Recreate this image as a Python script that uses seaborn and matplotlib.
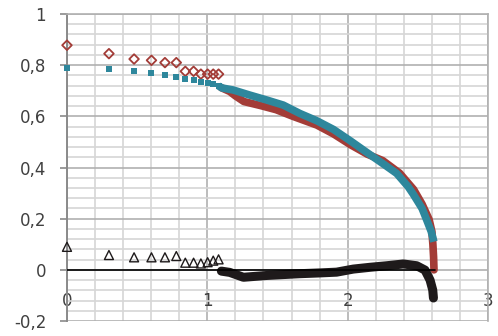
import matplotlib
matplotlib.use("Agg")
import matplotlib.pyplot as plt
import seaborn as sns
import pandas as pd
from matplotlib.ticker import FixedLocator, MultipleLocator

# ---------------- data ----------------
x_sparse = [0.0, 0.299, 0.478, 0.602, 0.698, 0.779, 0.843, 0.902, 0.954, 1.002, 1.042, 1.080]
red_sparse = [0.878, 0.845, 0.824, 0.819, 0.810, 0.810, 0.776, 0.776, 0.765, 0.765, 0.765, 0.765]
teal_sparse = [0.788, 0.784, 0.777, 0.769, 0.760, 0.753, 0.745, 0.741, 0.734, 0.729, 0.725, 0.719]
black_sparse = [0.090, 0.058, 0.049, 0.049, 0.049, 0.054, 0.028, 0.028, 0.025, 0.030, 0.036, 0.041]

red_dense_x = [1.10, 1.16, 1.20, 1.26, 1.38, 1.49, 1.61, 1.66, 1.78, 1.90, 2.02, 2.14,
               2.25, 2.37, 2.47, 2.53, 2.58, 2.60, 2.607, 2.612, 2.615]
red_dense_y = [0.712, 0.697, 0.680, 0.658, 0.642, 0.626, 0.600, 0.590, 0.566, 0.531, 0.489, 0.452,
               0.427, 0.378, 0.314, 0.257, 0.197, 0.150, 0.100, 0.050, 0.000]

teal_dense_x = [1.080, 1.104, 1.184, 1.303, 1.422, 1.541, 1.660, 1.779, 1.898, 2.017, 2.136,
                2.254, 2.349, 2.431, 2.468, 2.530, 2.563, 2.595, 2.614]
teal_dense_y = [0.719, 0.711, 0.703, 0.683, 0.664, 0.644, 0.611, 0.583, 0.549, 0.505, 0.459,
                0.414, 0.377, 0.325, 0.295, 0.240, 0.195, 0.150, 0.110]

black_dense_x = [1.10, 1.16, 1.257, 1.422, 1.660, 1.803, 1.921, 2.040, 2.159, 2.278, 2.397,
                 2.492, 2.551, 2.587, 2.606, 2.611]
black_dense_y = [-0.005, -0.010, -0.029, -0.022, -0.015, -0.012, -0.009, 0.003, 0.010, 0.016, 0.023,
                 0.016, -0.001, -0.040, -0.079, -0.110]

zero_x = [0.0, 2.62]
zero_y = [0.0, 0.0]

x_ticks = [0, 1, 2, 3]
x_tick_labels = ["0", "1", "2", "3"]
y_ticks = [-0.2, 0.0, 0.2, 0.4, 0.6, 0.8, 1.0]
y_tick_labels = ["-0,2", "0", "0,2", "0,4", "0,6", "0,8", "1"]

# ---------------- style ----------------
sns.set_theme(style="white")
plt.rcParams["font.family"] = ["DejaVu Sans"]

RED = "#A33C37"
TEAL = "#2E879C"
BLACK = "#1E1A1B"
TEXT = "#404040"

fig, ax = plt.subplots(figsize=(4.98, 3.36), dpi=100)
fig.subplots_adjust(left=0.1345, right=0.98, top=0.9583, bottom=0.0446)

# ---------------- series ----------------
sns.lineplot(x=red_dense_x, y=red_dense_y, sort=False, estimator=None, color=RED,
             lw=5.5, solid_capstyle="round", ax=ax, zorder=3)
sns.scatterplot(x=x_sparse, y=red_sparse, marker="D", s=24, facecolor="none",
                edgecolor=RED, linewidth=1.3, ax=ax, zorder=3, clip_on=False)

sns.lineplot(x=teal_dense_x, y=teal_dense_y, sort=False, estimator=None, color=TEAL,
             lw=5.5, solid_capstyle="butt", ax=ax, zorder=4)
sns.scatterplot(x=x_sparse, y=teal_sparse, marker="s", s=14, color=TEAL,
                edgecolor=TEAL, linewidth=0, ax=ax, zorder=4, clip_on=False)

sns.lineplot(x=black_dense_x, y=black_dense_y, sort=False, estimator=None, color=BLACK,
             lw=6.5, solid_capstyle="round", ax=ax, zorder=5)
sns.scatterplot(x=x_sparse, y=black_sparse, marker="^", s=42, facecolor="none",
                edgecolor=BLACK, linewidth=1.0, ax=ax, zorder=5, clip_on=False)

sns.lineplot(x=zero_x, y=zero_y, sort=False, estimator=None, color="black",
             lw=1.2, ax=ax, zorder=6)

# ---------------- axes ----------------
ax.set_xlim(0, 3)
ax.set_ylim(-0.2, 1.0)
ax.xaxis.set_major_locator(FixedLocator(x_ticks))
ax.set_xticklabels(x_tick_labels)
ax.xaxis.set_minor_locator(MultipleLocator(0.2))
ax.yaxis.set_major_locator(FixedLocator(y_ticks))
ax.set_yticklabels(y_tick_labels)
ax.yaxis.set_minor_locator(MultipleLocator(0.04))

ax.set_axisbelow(True)
ax.grid(True, which="minor", color="#D6D6D6", lw=1.2)
ax.grid(True, which="major", color="#B0B0B0", lw=1.2)

ax.spines["bottom"].set_position(("data", 0))
ax.spines["bottom"].set_visible(False)
ax.spines["left"].set_color("#8A8A8A")
ax.spines["left"].set_linewidth(1.4)
for s in ("top", "right"):
    ax.spines[s].set_color("#B0B0B0")
    ax.spines[s].set_linewidth(1.2)

ax.tick_params(axis="x", which="both", length=0, pad=16, labelsize=12, labelcolor=TEXT)
ax.tick_params(axis="y", which="major", left=True, length=5, width=1.2, color="#8A8A8A",
               direction="out", pad=10, labelsize=12, labelcolor=TEXT)
ax.tick_params(axis="y", which="minor", length=0)
ax.set_xlabel("")
ax.set_ylabel("")
if ax.get_legend():
    ax.get_legend().remove()

fig.savefig("out.png", dpi=100)
